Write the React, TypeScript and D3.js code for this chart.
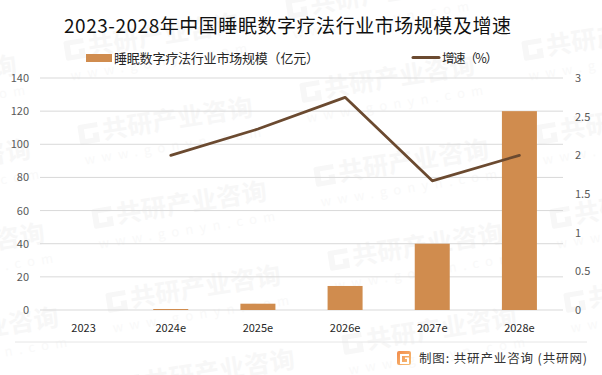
import React from "react";
import * as d3 from "d3";

const categories = ["2023", "2024e", "2025e", "2026e", "2027e", "2028e"];
const marketSize = [0, 0.6, 3.8, 14.5, 40, 120];
const growth: (number | null)[] = [null, 2.0, 2.34, 2.75, 1.67, 2.0];
const leftTicks = [0, 20, 40, 60, 80, 100, 120, 140];
const rightTicks = [0, 0.5, 1, 1.5, 2, 2.5, 3];
const title = "2023-2028年中国睡眠数字疗法行业市场规模及增速";
const legendBar = "睡眠数字疗法行业市场规模（亿元）";
const legendLine = "增速（%）";
const source = "制图: 共研产业咨询 (共研网)";
const wmText = "共研产业咨询";
const wmUrl = "www.gonyn.com";

const FONT = "'Noto Sans CJK SC', 'Noto Sans', sans-serif";
const W = 602, H = 375;
const x = d3.scaleBand<string>().domain(categories).range([40, 563]);
const yL = d3.scaleLinear().domain([0, 140]).range([310, 78]);
const yR = d3.scaleLinear().domain([0, 3]).range([310, 78]);
const line = d3.line<number | null>()
  .defined((d) => d != null)
  .x((_, i) => x(categories[i])! + x.bandwidth() / 2)
  .y((d) => yR(d as number));

const wmRows = [-1, 0, 1, 2, 3];
const wmCols = [-1, 0, 1, 2];

function Watermark({ tx, ty }: { tx: number; ty: number }) {
  return (
    <g transform={`translate(${tx},${ty}) rotate(-9)`} fill="#f7f7f7">
      <path d="M2,-18 H20 V-13 H6 V-3 H14 V-8 H20 V2 H2 Q0,2 0,0 V-16 Q0,-18 2,-18 Z" />
      <text x={24} y={0} fontSize={25} fontWeight={700} fontFamily={FONT} textLength={152} lengthAdjust="spacing">{wmText}</text>
      <text x={2} y={22} fontSize={13} fontFamily={FONT} letterSpacing={6.4} fill="#f9f9f9">{wmUrl}</text>
    </g>
  );
}

export default function App() {
  return (
    <svg width={W} height={H} style={{ position: "absolute", left: 0, top: 0, background: "#fff" }}>
      <defs>
        <linearGradient id="logoFill" x1="0" y1="0" x2="1" y2="1">
          <stop offset="0" stopColor="#f28a4a" />
          <stop offset="1" stopColor="#f7c27a" />
        </linearGradient>
      </defs>
      {wmRows.flatMap((r) =>
        wmCols.map((c) => (
          <Watermark key={`${r}-${c}`} tx={80 + c * 222 + r * 14} ty={143 + c * -42 + r * 84} />
        ))
      )}
      {leftTicks.map((t) => (
        <g key={t}>
          <line x1={40} x2={563} y1={yL(t)} y2={yL(t)} stroke="#d9d9d9" strokeWidth={1} />
          <text x={29} y={yL(t) + 4} textAnchor="end" fontSize={11} fill="#595959" fontFamily={FONT}>{t}</text>
        </g>
      ))}
      {rightTicks.map((t) => (
        <text key={t} x={575} y={yR(t) + 4} fontSize={11} fill="#595959" fontFamily={FONT}>{t}</text>
      ))}
      {categories.map((c, i) => (
        <g key={c}>
          <rect x={x(c)! + x.bandwidth() / 2 - 17.5} width={35} y={yL(marketSize[i])} height={310 - yL(marketSize[i])} fill="#d08c4e" />
          <text x={x(c)! + x.bandwidth() / 2} y={332} textAnchor="middle" fontSize={11} fill="#262626" fontFamily={FONT}>{c}</text>
        </g>
      ))}
      <path d={line(growth) ?? ""} fill="none" stroke="#6b4a30" strokeWidth={2.75} strokeLinecap="round" strokeLinejoin="round" />
      <text x={64} y={33} fontSize={19} fill="#111" fontFamily={FONT} textLength={447} lengthAdjust="spacing">{title}</text>
      <rect x={86} y={54} width={26} height={8} fill="#d08c4e" />
      <text x={114} y={63} fontSize={13} fill="#262626" fontFamily={FONT} textLength={205} lengthAdjust="spacing">{legendBar}</text>
      <line x1={413} x2={439} y1={57.5} y2={57.5} stroke="#6b4a30" strokeWidth={3} strokeLinecap="round" />
      <text x={442} y={63} fontSize={12.5} fill="#262626" fontFamily={FONT} textLength={56} lengthAdjust="spacing">{legendLine}</text>
      <line x1={15} x2={587} y1={342} y2={342} stroke="#e6e6e6" strokeWidth={1} />
      <rect x={397} y={351} width={14} height={14} rx={2} fill="url(#logoFill)" />
      <path d="M400,354 H409 V356 H402 V362 H407 V359 H405 V357.5 H409 V364 H400 Z" fill="#fff" />
      <text x={419} y={363} fontSize={12.5} fill="#333" fontFamily={FONT} textLength={168} lengthAdjust="spacing">{source}</text>
    </svg>
  );
}
